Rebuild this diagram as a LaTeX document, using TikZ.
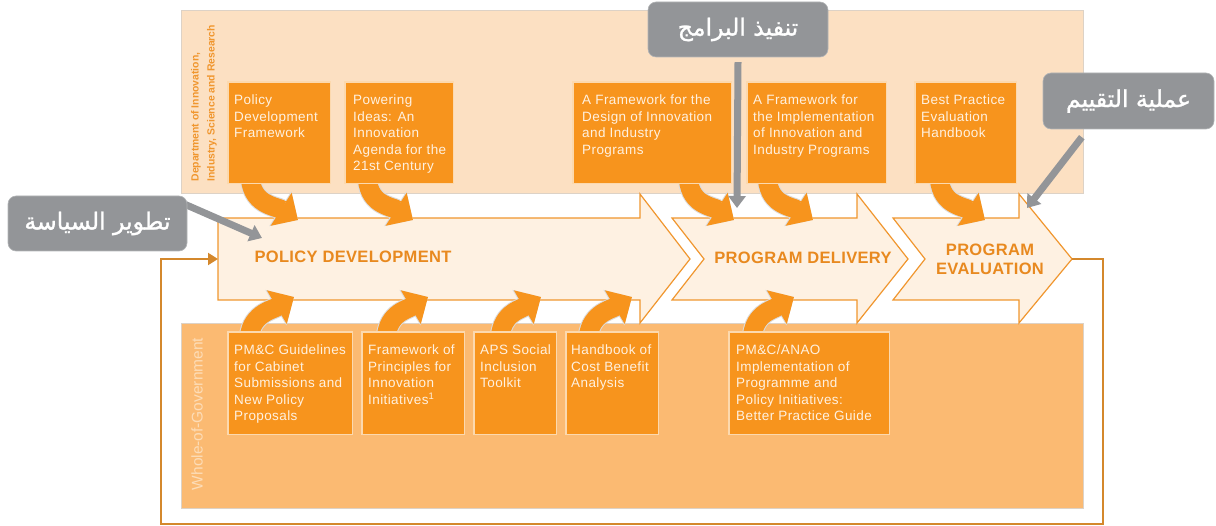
\documentclass[tikz,border=0pt]{standalone}
\usepackage{fontspec}
\setmainfont{Liberation Sans}
\newfontfamily\boxfont[LetterSpace=3]{Liberation Sans}
\newfontfamily\headfont[LetterSpace=2]{Liberation Sans}
\newfontfamily\arabicfont[Script=Arabic,FakeBold=1.2]{DejaVu Sans}
\TeXXeTstate=1
\usetikzlibrary{arrows.meta,shadows,calc}
\definecolor{topband}{HTML}{FCE0C2}
\definecolor{botband}{HTML}{FBBA72}
\definecolor{bandedge}{HTML}{DDD2C6}
\definecolor{boxor}{HTML}{F7941D}
\definecolor{boxedge}{HTML}{FCD9AE}
\definecolor{boxtxt}{HTML}{FFF1E0}
\definecolor{procfill}{HTML}{FEF1E2}
\definecolor{procedge}{HTML}{F0962E}
\definecolor{headcol}{HTML}{E8891F}
\definecolor{calgray}{HTML}{939598}
\definecolor{loopcol}{HTML}{D4882C}
\definecolor{shadowcol}{HTML}{DCDCDC}
\definecolor{wogcol}{HTML}{FDDDB8}
\tikzset{
  docbox/.style={fill=boxor, draw=boxedge, line width=1.2pt, inner sep=0pt,
    drop shadow={shadow xshift=1pt, shadow yshift=-1pt, opacity=0.25}},
  boxtext/.style={text=boxtxt, font=\boxfont\fontsize{13.5}{16.5}\selectfont,
    align=left, inner sep=0pt, anchor=north west},
  procshape/.style={fill=procfill, draw=procedge, line width=1.2pt, line join=miter},
  headtext/.style={text=headcol, font=\headfont\bfseries\fontsize{16.5}{19}\selectfont, align=center},
  curvarrow/.style={draw=boxor, line width=19pt, -{Triangle[width=38pt,length=20pt]}},
  curvshadow/.style={draw=shadowcol, line width=21pt, -{Triangle[width=40pt,length=21pt]}, xshift=-6pt, yshift=-3pt},
  callout/.style={fill=calgray, draw=calgray!70!white, line width=0.6pt, rounded corners=8pt,
    text=white, font=\arabicfont\fontsize{23.5}{28}\selectfont, inner sep=0pt},
  calarrow/.style={draw=calgray, line width=7pt, -{Triangle[width=17pt,length=12pt]}},
  loopline/.style={draw=loopcol, line width=2pt, -{Triangle[width=12pt,length=10pt]}},
}
\newcommand\toparrow[3]{%
  \draw[curvshadow] ([xshift=#2pt,yshift=10pt]#1.south west) .. controls +(0,32) and +(-22,-14) .. (#3);
  \draw[curvarrow] ([xshift=#2pt,yshift=10pt]#1.south west) .. controls +(0,32) and +(-22,-14) .. (#3);}
\newcommand\botarrow[3]{%
  \draw[curvshadow] ([xshift=#2pt,yshift=-10pt]#1.north west) .. controls +(0,-28) and +(-22,13) .. (#3);
  \draw[curvarrow] ([xshift=#2pt,yshift=-10pt]#1.north west) .. controls +(0,-28) and +(-22,13) .. (#3);}
\begin{document}
\begin{tikzpicture}[x=1pt,y=-1pt]
\useasboundingbox (0,0) rectangle (1216,526);
% bands
\draw[fill=topband, draw=bandedge, line width=0.8pt] (181,10) rectangle (1083,193);
\draw[fill=botband, draw=bandedge, line width=0.8pt] (181,323) rectangle (1083,508);
% band labels
\node[rotate=90, anchor=west, align=left, text=procedge,
  font=\bfseries\fontsize{10.4}{16}\selectfont] (dept) at (204,185)
  {Department of Innovation,\\Industry, Science and Research};
\node[rotate=90, text=wogcol, font=\fontsize{15.5}{18}\selectfont] (wog) at (197,414)
  {Whole-of-Government};
% process shapes
\draw[procshape] (218,218) -- (640,218) -- (640,194) -- (690,259) -- (640,323) -- (640,300) -- (218,300) -- cycle;
\draw[procshape] (672,218) -- (857,218) -- (857,194) -- (908,259) -- (857,323) -- (857,300) -- (672,300) -- (704,259) -- cycle;
\draw[procshape] (893,218) -- (1019,218) -- (1019,194) -- (1072,259) -- (1019,323) -- (1019,300) -- (893,300) -- (925,259) -- cycle;
\coordinate (pdin) at (218,259);
\coordinate (evtip) at (1072,259);
\node[headtext] (pdv) at (353,257) {POLICY DEVELOPMENT};
\node[headtext] (pdl) at (803,258) {PROGRAM DELIVERY};
\node[headtext] (pev) at (990,259) {PROGRAM\\EVALUATION};
% loop
\draw[loopline] (evtip) -- ++(31,0) -- ++(0,265) -| ([xshift=-57pt]pdin) -- (pdin);
% boxes (positions)
\node[minimum width=102pt, minimum height=101pt, inner sep=0pt, anchor=north west] (b1) at (228,82) {};
\node[minimum width=108pt, minimum height=101pt, inner sep=0pt, anchor=north west] (b2) at (345,82) {};
\node[minimum width=158pt, minimum height=101pt, inner sep=0pt, anchor=north west] (b3) at (573,82) {};
\node[minimum width=139pt, minimum height=101pt, inner sep=0pt, anchor=north west] (b4) at (747,82) {};
\node[minimum width=101pt, minimum height=101pt, inner sep=0pt, anchor=north west] (b5) at (915,82) {};
\node[minimum width=124pt, minimum height=102pt, inner sep=0pt, anchor=north west] (ba) at (228,332) {};
\node[minimum width=102pt, minimum height=102pt, inner sep=0pt, anchor=north west] (bb) at (362,332) {};
\node[minimum width=82pt, minimum height=102pt, inner sep=0pt, anchor=north west] (bc) at (474,332) {};
\node[minimum width=92pt, minimum height=102pt, inner sep=0pt, anchor=north west] (bd) at (566,332) {};
\node[minimum width=160pt, minimum height=102pt, inner sep=0pt, anchor=north west] (be) at (729,332) {};
% arrow targets
\coordinate (t1) at (298,220);
\coordinate (t2) at (413,220);
\coordinate (t3) at (734,220);
\coordinate (t4) at (813,220);
\coordinate (t5) at (985,220);
\coordinate (u1) at (294,297);
\coordinate (u2) at (428,297);
\coordinate (u3) at (541,297);
\coordinate (u4) at (632,297);
\coordinate (u5) at (794,297);
% curved arrows
\toparrow{b1}{22}{t1}
\toparrow{b2}{22}{t2}
\toparrow{b3}{115}{t3}
\toparrow{b4}{20}{t4}
\toparrow{b5}{24}{t5}
\botarrow{ba}{21}{u1}
\botarrow{bb}{24}{u2}
\botarrow{bc}{26}{u3}
\botarrow{bd}{22}{u4}
\botarrow{be}{23}{u5}
% draw box fills on top
\foreach \b in {b1,b2,b3,b4,b5,ba,bb,bc,bd,be}
  \draw[docbox] (\b.north west) rectangle (\b.south east);
% box texts
\node[boxtext] (b1t) at ([xshift=6pt,yshift=-13pt]b1.north west) {Policy\\Development\\Framework};
\node[boxtext] (b2t) at ([xshift=8pt,yshift=-13pt]b2.north west) {Powering\\Ideas: An\\Innovation\\Agenda for the\\21st Century};
\node[boxtext] (b3t) at ([xshift=9pt,yshift=-13pt]b3.north west) {A Framework for the\\Design of Innovation\\and Industry\\Programs};
\node[boxtext] (b4t) at ([xshift=6pt,yshift=-13pt]b4.north west) {A Framework for\\the Implementation\\of Innovation and\\Industry Programs};
\node[boxtext] (b5t) at ([xshift=6pt,yshift=-13pt]b5.north west) {Best Practice\\Evaluation\\Handbook};
\node[boxtext] (bat) at ([xshift=6pt,yshift=-13pt]ba.north west) {PM\&C Guidelines\\for Cabinet\\Submissions and\\New Policy\\Proposals};
\node[boxtext] (bbt) at ([xshift=6pt,yshift=-13pt]bb.north west) {Framework of\\Principles for\\Innovation\\Initiatives\textsuperscript{1}};
\node[boxtext] (bct) at ([xshift=6pt,yshift=-13pt]bc.north west) {APS Social\\Inclusion\\Toolkit};
\node[boxtext] (bdt) at ([xshift=5pt,yshift=-13pt]bd.north west) {Handbook of\\Cost Benefit\\Analysis};
\node[boxtext] (bet) at ([xshift=7pt,yshift=-13pt]be.north west) {PM\&C/ANAO\\Implementation of\\Programme and\\Policy Initiatives:\\Better Practice Guide};
% callouts
\coordinate (ca) at (262,238);
\coordinate (cb) at (737,208);
\coordinate (cc) at (1027,208);
\node[minimum width=179pt, minimum height=55pt] (c1pos) at (97.5,223.5) {};
\node[minimum width=180pt, minimum height=55pt] (c2pos) at (738,29.5) {};
\node[minimum width=171pt, minimum height=56pt] (c3pos) at (1128.5,101) {};
\draw[calarrow] ([xshift=-8pt,yshift=-6pt]c1pos.north east) -- (ca);
\draw[calarrow] ([yshift=-5pt]c2pos.south) -- (cb);
\draw[calarrow] ([xshift=39pt,yshift=-8pt]c3pos.south west) -- (cc);
\node[callout, minimum width=179pt, minimum height=55pt] (c1) at (c1pos) {\beginR تطوير السياسة\endR};
\node[callout, minimum width=180pt, minimum height=55pt] (c2) at (c2pos) {\beginR تنفيذ البرامج\endR};
\node[callout, minimum width=171pt, minimum height=56pt] (c3) at (c3pos) {\beginR عملية التقييم\endR};
\end{tikzpicture}
\end{document}
